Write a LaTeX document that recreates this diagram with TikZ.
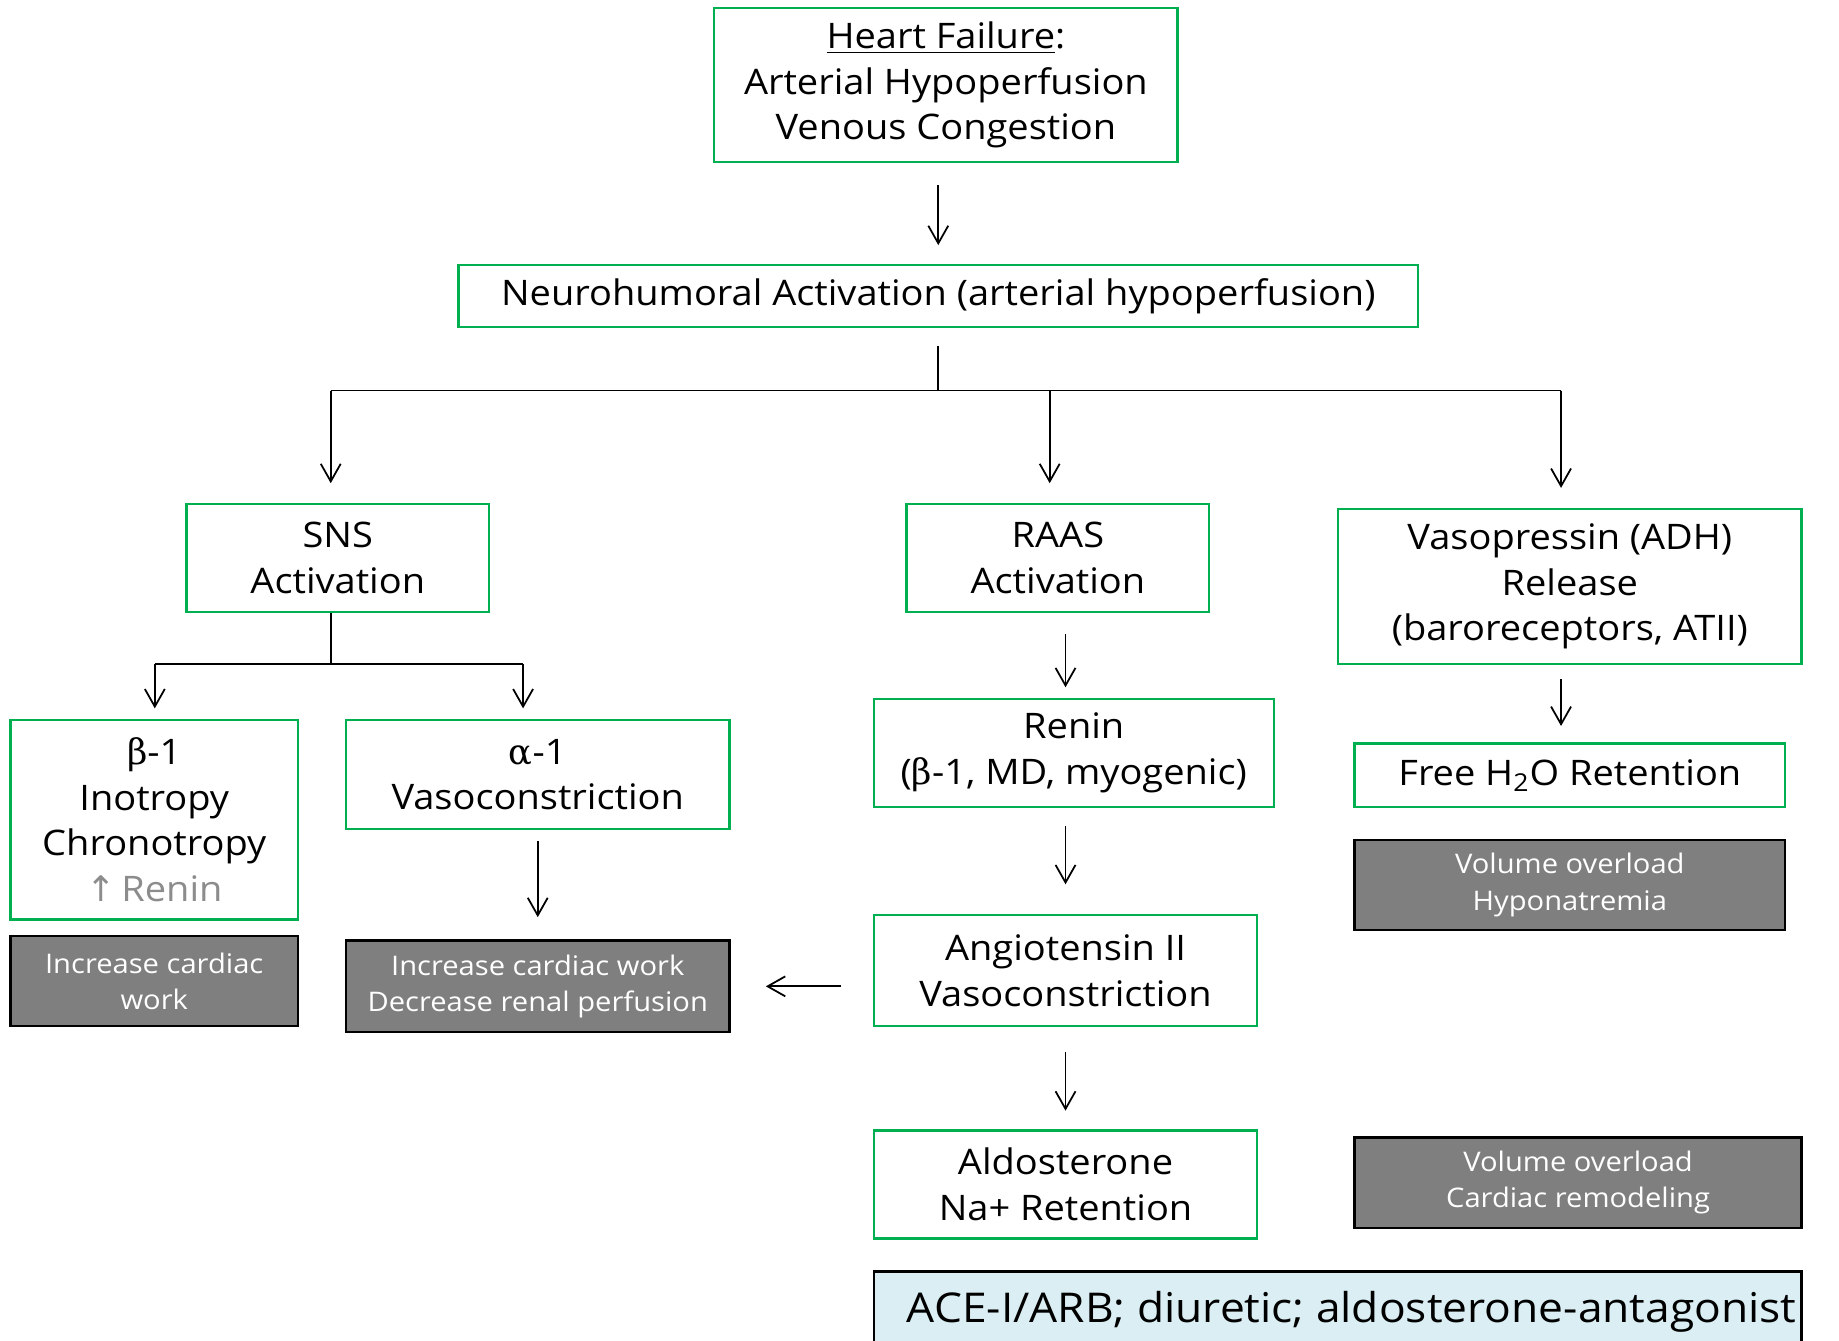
\documentclass[tikz,border=0pt]{standalone}
\usepackage{fontspec}
\setmainfont{Open Sans}[FakeStretch=1.08]
\newfontfamily\dejavu{DejaVu Sans}
\newfontfamily\grk{DejaVu Serif}
\usetikzlibrary{arrows.meta}
\definecolor{boxgreen}{HTML}{00B050}
\definecolor{boxgray}{HTML}{7F7F7F}
\definecolor{aceblue}{HTML}{DAEEF3}
\definecolor{txtgray}{HTML}{8C8C8C}
\begin{document}
\begin{tikzpicture}[x=0.5pt,y=-0.5pt,
  gbox/.style={draw=boxgreen, line width=1pt, align=center, inner sep=0pt, font=\fontsize{15}{19.5}\selectfont},
  dbox/.style={draw=black, fill=boxgray, line width=1pt, align=center, inner sep=0pt, text=white, font=\fontsize{11.5}{15.5}\selectfont},
  acebox/.style={draw=black, fill=aceblue, line width=1pt, align=center, inner sep=0pt, font=\fontsize{17.5}{20}\selectfont},
  sz/.style 2 args={minimum width=#1*0.5pt, minimum height=#2*0.5pt},
  conn/.style={line width=0.75pt},
  arr/.style={conn, -{Straight Barb[length=7.5pt,width=8.5pt]}}]
\fill[white] (0,0) rectangle (1568,1143);
\useasboundingbox (0,0) rectangle (1568,1143);

% nodes
\node[gbox, sz={395}{131}] (hf) at (806.5,72.5) {\underline{Heart Failure}:\\Arterial Hypoperfusion\\Venous Congestion};
\node[gbox, sz={818}{53}] (na) at (800,252.5) {Neurohumoral Activation (arterial hypoperfusion)};
\node[gbox, sz={258}{92}] (sns) at (288,476) {SNS\\Activation};
\node[gbox, sz={258}{92}] (raas) at (902,476) {RAAS\\Activation};
\node[gbox, sz={395}{132}] (vaso) at (1338.5,500) {Vasopressin (ADH)\\Release\\(baroreceptors, ATII)};
\node[gbox, sz={245}{170}] (beta) at (131.5,699) {{\grk β}-1\\Inotropy\\Chronotropy\\\textcolor{txtgray}{{\dejavu ↑}\,Renin}};
\node[gbox, sz={327}{93}] (alpha) at (458.5,660.5) {{\grk α}-1\\Vasoconstriction};
\node[dbox, sz={245}{77}] (g1) at (131.5,836.5) {Increase cardiac\\work};
\node[dbox, sz={327}{78}] (g2) at (458.5,841) {Increase cardiac work\\Decrease renal perfusion};
\node[gbox, sz={341}{92}] (renin) at (915.5,642) {Renin\\({\grk β}-1, MD, myogenic)};
\node[gbox, sz={327}{95}] (angio) at (908.5,827.5) {Angiotensin II\\Vasoconstriction};
\node[gbox, sz={327}{92}] (aldo) at (908.5,1010) {Aldosterone\\Na+ Retention};
\node[gbox, sz={367}{54}] (water) at (1338.5,661) {Free H\textsubscript{2}O Retention};
\node[dbox, sz={367}{77}] (g3) at (1338.5,754.5) {Volume overload\\Hyponatremia};
\node[dbox, sz={381}{77}] (g4) at (1345.5,1008.5) {Volume overload\\Cardiac remodeling};
\node[acebox, sz={791}{80}, anchor=north] (ace) at (1140.5,1083) {\hspace*{12pt}\raisebox{9.5pt}{ACE-I/ARB; diuretic; aldosterone-antagonist}};

% bus coordinates
\coordinate (bus) at (800,333);
\coordinate (b1) at (282,333);
\coordinate (b2) at (895,333);
\coordinate (b3) at (1331,333);
\coordinate (sbus) at (282,566);
\coordinate (s1) at (132,566);
\coordinate (s2) at (446,566);

% connectors
\draw[arr, shorten <=9.5pt, shorten >=8pt] (hf.south -| na.north) -- (na.north);
\draw[conn, shorten <=7.5pt] (na.south) -- (bus);
\draw[conn] (b1) -- (b3);
\draw[arr, shorten >=8.5pt] (b1) -- (b1 |- sns.north);
\draw[arr, shorten >=8.5pt] (b2) -- (b2 |- raas.north);
\draw[arr, shorten >=8.5pt] (b3) -- (b3 |- vaso.north);

\draw[conn] (sbus |- sns.south) -- (sbus);
\draw[conn] (s1) -- (s2);
\draw[arr, shorten >=4.5pt] (s1) -- (s1 |- beta.north);
\draw[arr, shorten >=4.5pt] (s2) -- (s2 |- alpha.north);

\draw[arr, shorten <=4.5pt, shorten >=9.5pt] (alpha.south) -- (g2.north);

\draw[arr, shorten <=9pt, shorten >=4.5pt] (raas.south -| angio.north) -- (renin.north -| angio.north);
\draw[arr, shorten <=7.5pt, shorten >=12.5pt] (renin.south -| angio.north) -- (angio.north);
\draw[arr, shorten <=10.5pt, shorten >=8pt] (angio.south) -- (aldo.north);
\draw[arr, shorten <=13.5pt, shorten >=15pt] (angio.west |- g2.east) -- (g2.east);

\draw[arr, shorten <=6pt, shorten >=7pt] (vaso.south -| b3) -- (water.north -| b3);
\end{tikzpicture}
\end{document}
